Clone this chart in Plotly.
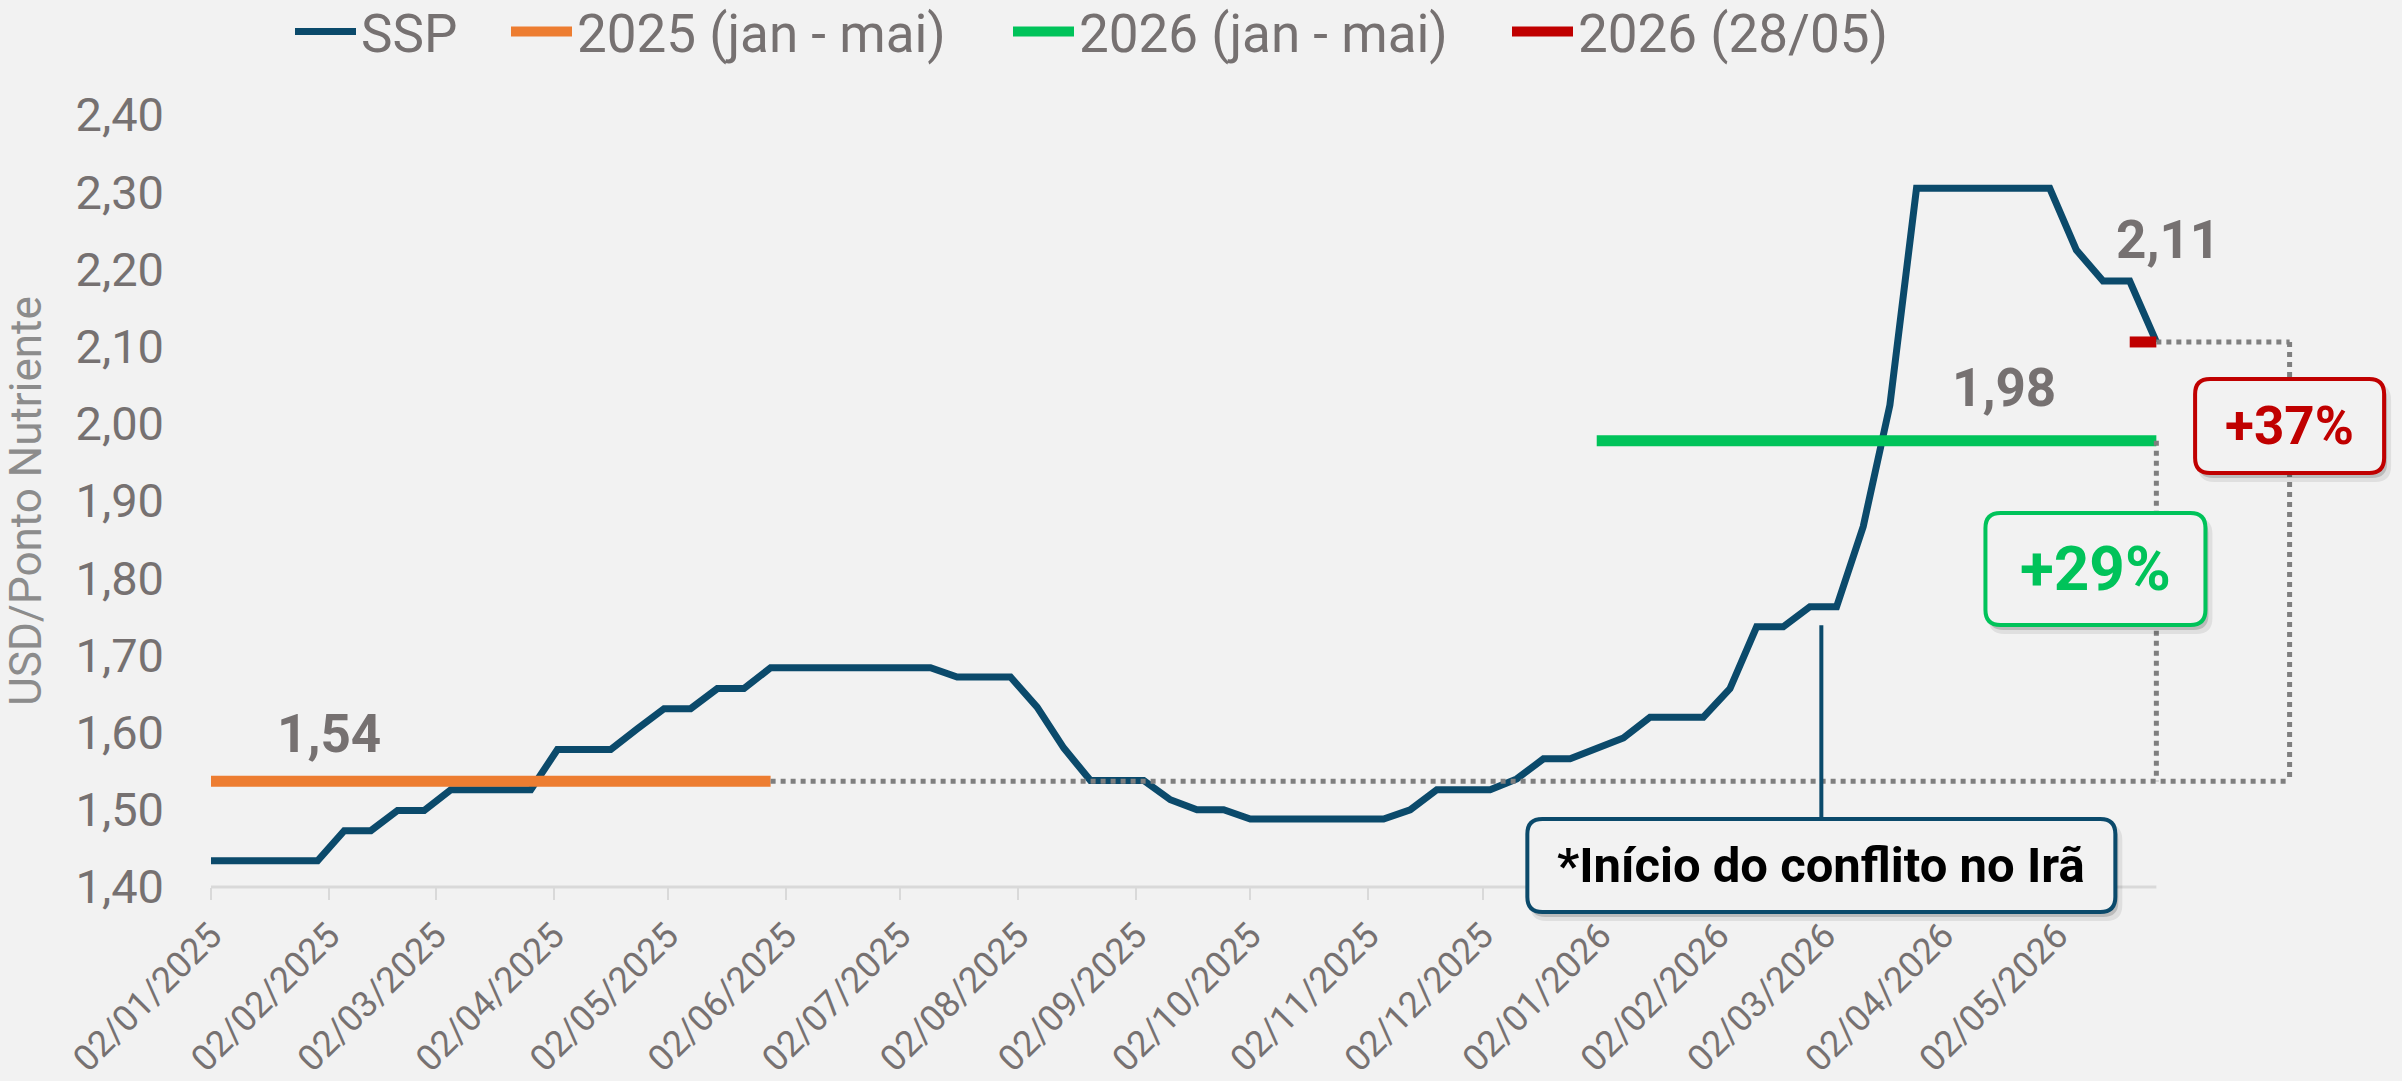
import plotly.graph_objects as go
import pandas as pd

# ---------------- data ----------------
START_DATE = "2025-01-02"          # first weekly observation
ssp_values = [
    1.434, 1.434, 1.434, 1.434, 1.434, 1.473, 1.473, 1.499, 1.499, 1.526,
    1.526, 1.526, 1.526, 1.578, 1.578, 1.578, 1.605, 1.631, 1.631, 1.657,
    1.657, 1.684, 1.684, 1.684, 1.684, 1.684, 1.684, 1.684, 1.672, 1.672,
    1.672, 1.633, 1.580, 1.538, 1.538, 1.538, 1.513, 1.500, 1.500, 1.488,
    1.488, 1.488, 1.488, 1.488, 1.488, 1.500, 1.526, 1.526, 1.526, 1.540,
    1.566, 1.566, 1.580, 1.593, 1.620, 1.620, 1.620, 1.657, 1.737, 1.737,
    1.763, 1.763, 1.867, 2.024, 2.305, 2.305, 2.305, 2.305, 2.305, 2.305,
    2.225, 2.185, 2.185, 2.106,
]
ssp_dates = pd.date_range(START_DATE, periods=len(ssp_values), freq="7D")

avg_2025_value = 1.537                       # média 2025 (jan - mai)
avg_2025_dates = ["2025-01-02", "2025-05-29"]
avg_2026_value = 1.978                       # média 2026 (jan - mai)
avg_2026_dates = ["2026-01-01", "2026-05-28"]
last_value = 2.106                           # 2026 (28/05)
last_dates = ["2026-05-21", "2026-05-28"]

conflict_date = "2026-03-01"
conflict_top_value = 1.739

x_tick_dates = [
    "2025-01-02", "2025-02-02", "2025-03-02", "2025-04-02", "2025-05-02",
    "2025-06-02", "2025-07-02", "2025-08-02", "2025-09-02", "2025-10-02",
    "2025-11-02", "2025-12-02", "2026-01-02", "2026-02-02", "2026-03-02",
    "2026-04-02", "2026-05-02",
]
x_tick_labels = [
    "02/01/2025", "02/02/2025", "02/03/2025", "02/04/2025", "02/05/2025",
    "02/06/2025", "02/07/2025", "02/08/2025", "02/09/2025", "02/10/2025",
    "02/11/2025", "02/12/2025", "02/01/2026", "02/02/2026", "02/03/2026",
    "02/04/2026", "02/05/2026",
]
series_names = ["SSP", "2025 (jan - mai)", "2026 (jan - mai)", "2026 (28/05)"]

# ---------------- styling / layout constants ----------------
W, H = 2402, 1081
ML, MR, MT, MB = 211, 2, 115, 194
X_RANGE = ["2025-01-02", "2026-07-31"]
Y_RANGE = [1.40, 2.40]
BG = "#F2F2F2"
C_SSP = "#0B4A6B"
C_ORANGE = "#ED7D31"
C_GREEN = "#00C35A"
C_RED = "#C00000"
C_TXT = "#767171"
C_DOT = "#7F7F7F"
FONT = "Roboto, sans-serif"
RIGHT_X = "2026-07-02"

X0, X1 = pd.Timestamp(X_RANGE[0]), pd.Timestamp(X_RANGE[1])


def paper_x(d):
    return (pd.Timestamp(d) - X0).total_seconds() / (X1 - X0).total_seconds()


def paper_y(v):
    return (v - Y_RANGE[0]) / (Y_RANGE[1] - Y_RANGE[0])


def fmt(v):
    return f"{v:.2f}".replace(".", ",")


def rrect(w, h, r, dx=0.0, dy=0.0):
    x0, x1 = -w / 2 + dx, w / 2 + dx
    y0, y1 = -h / 2 + dy, h / 2 + dy
    return (f"M{x0 + r},{y0} L{x1 - r},{y0} Q{x1},{y0} {x1},{y0 + r} "
            f"L{x1},{y1 - r} Q{x1},{y1} {x1 - r},{y1} L{x0 + r},{y1} "
            f"Q{x0},{y1} {x0},{y1 - r} L{x0},{y0 + r} Q{x0},{y0} {x0 + r},{y0} Z")


fig = go.Figure()

fig.add_trace(go.Scatter(x=ssp_dates, y=ssp_values, mode="lines", name=series_names[0],
                         line=dict(color=C_SSP, width=7), legend="legend"))
fig.add_trace(go.Scatter(x=avg_2025_dates, y=[avg_2025_value] * 2, mode="lines", name=series_names[1],
                         line=dict(color=C_ORANGE, width=11), legend="legend2"))
fig.add_trace(go.Scatter(x=avg_2026_dates, y=[avg_2026_value] * 2, mode="lines", name=series_names[2],
                         line=dict(color=C_GREEN, width=11), legend="legend3"))
fig.add_trace(go.Scatter(x=last_dates, y=[last_value] * 2, mode="lines", name=series_names[3],
                         line=dict(color=C_RED, width=11), legend="legend4"))

shapes = []
dot = dict(color=C_DOT, width=5, dash="dot")
# dotted reference lines
shapes.append(dict(type="line", xref="x", yref="y", x0=avg_2025_dates[1], x1=RIGHT_X,
                   y0=avg_2025_value, y1=avg_2025_value, line=dot))
shapes.append(dict(type="line", xref="x", yref="y", x0=avg_2026_dates[1], x1=avg_2026_dates[1],
                   y0=avg_2026_value, y1=avg_2025_value, line=dot))
shapes.append(dict(type="line", xref="x", yref="y", x0=last_dates[1], x1=RIGHT_X,
                   y0=last_value, y1=last_value, line=dot))
shapes.append(dict(type="line", xref="x", yref="y", x0=RIGHT_X, x1=RIGHT_X,
                   y0=last_value, y1=avg_2025_value, line=dot))
# x-axis baseline (ends at last observation)
shapes.append(dict(type="line", xref="paper", yref="paper", x0=0, x1=paper_x(ssp_dates[-1]),
                   y0=0, y1=0, line=dict(color="#D9D9D9", width=3)))

# boxes: (x date, y value, width px, height px, border colour, text, text colour, font size)
boxes = [
    (RIGHT_X, 1.997, 189, 94, C_RED, f"+{round((last_value / avg_2025_value - 1) * 100)}%", C_RED, 53),
    ("2026-05-12", 1.812, 220, 112, C_GREEN, f"+{round((avg_2026_value / avg_2025_value - 1) * 100)}%", C_GREEN, 62),
    (conflict_date, 1.428, 588, 93, C_SSP, "*Início do conflito no Irã", "#000000", 49),
]
# connector from the line to the conflict box
shapes.append(dict(type="line", xref="x", yref="y", x0=conflict_date, x1=conflict_date,
                   y0=conflict_top_value, y1=boxes[2][1], line=dict(color=C_SSP, width=4)))

annotations = []
for bx, by, bw, bh, bc, txt, tc, fs in boxes:
    common = dict(type="path", xref="paper", yref="paper", xsizemode="pixel", ysizemode="pixel",
                  xanchor=paper_x(bx), yanchor=paper_y(by))
    shapes.append(dict(common, path=rrect(bw + 4, bh + 4, 16, 5, -7),
                       fillcolor="rgba(0,0,0,0.08)", line=dict(width=0)))
    shapes.append(dict(common, path=rrect(bw, bh, 15, 3, -5),
                       fillcolor="rgba(0,0,0,0.16)", line=dict(width=0)))
    shapes.append(dict(common, path=rrect(bw, bh, 15), fillcolor=BG, line=dict(color=bc, width=4)))
    annotations.append(dict(x=bx, y=by, xref="x", yref="y", text=txt, showarrow=False,
                            font=dict(family=FONT, size=fs, color=tc, weight="bold"),
                            xanchor="center", yanchor="middle"))

# value labels
for lx, ly, val in [("2025-02-02", 1.598, avg_2025_value),
                    ("2026-04-18", 2.046, avg_2026_value),
                    ("2026-05-31", 2.238, last_value)]:
    annotations.append(dict(x=lx, y=ly, xref="x", yref="y", text=fmt(val), showarrow=False,
                            font=dict(family=FONT, size=53, color=C_TXT, weight="bold"),
                            xanchor="center", yanchor="middle"))

leg_common = dict(orientation="h", yanchor="middle", y=1.108, xanchor="left", itemwidth=61,
                  bgcolor="rgba(0,0,0,0)", font=dict(family=FONT, size=53, color=C_TXT))
plot_w = W - ML - MR

fig.update_layout(
    width=W, height=H,
    margin=dict(l=ML, r=MR, t=MT, b=MB, autoexpand=False),
    paper_bgcolor=BG, plot_bgcolor=BG,
    separators=",.",
    font=dict(family=FONT, color=C_TXT),
    showlegend=True,
    legend=dict(leg_common, x=(290 - ML) / plot_w),
    legend2=dict(leg_common, x=(506 - ML) / plot_w),
    legend3=dict(leg_common, x=(1008 - ML) / plot_w),
    legend4=dict(leg_common, x=(1507 - ML) / plot_w),
    shapes=shapes,
    annotations=annotations,
    xaxis=dict(type="date", range=X_RANGE, showgrid=False, zeroline=False, showline=False,
               tickmode="array", tickvals=x_tick_dates, ticktext=x_tick_labels,
               tickangle=-45, ticks="outside", ticklen=12, tickwidth=2, tickcolor="#D9D9D9",
               tickfont=dict(family=FONT, size=36, color=C_TXT), automargin=False),
    yaxis=dict(range=Y_RANGE, dtick=0.1, tick0=1.4, tickformat=".2f", showgrid=False,
               zeroline=False, showline=False, ticks="", ticklabelstandoff=46,
               tickfont=dict(family=FONT, size=47, color=C_TXT), automargin=False,
               title=dict(text="USD/Ponto Nutriente", standoff=25,
                          font=dict(family=FONT, size=44, color="#8C8C8C"))),
)

fig.write_html("out.html", config={"displayModeBar": False},
               post_script="document.body.style.margin='0';document.body.style.background='#F2F2F2';")
